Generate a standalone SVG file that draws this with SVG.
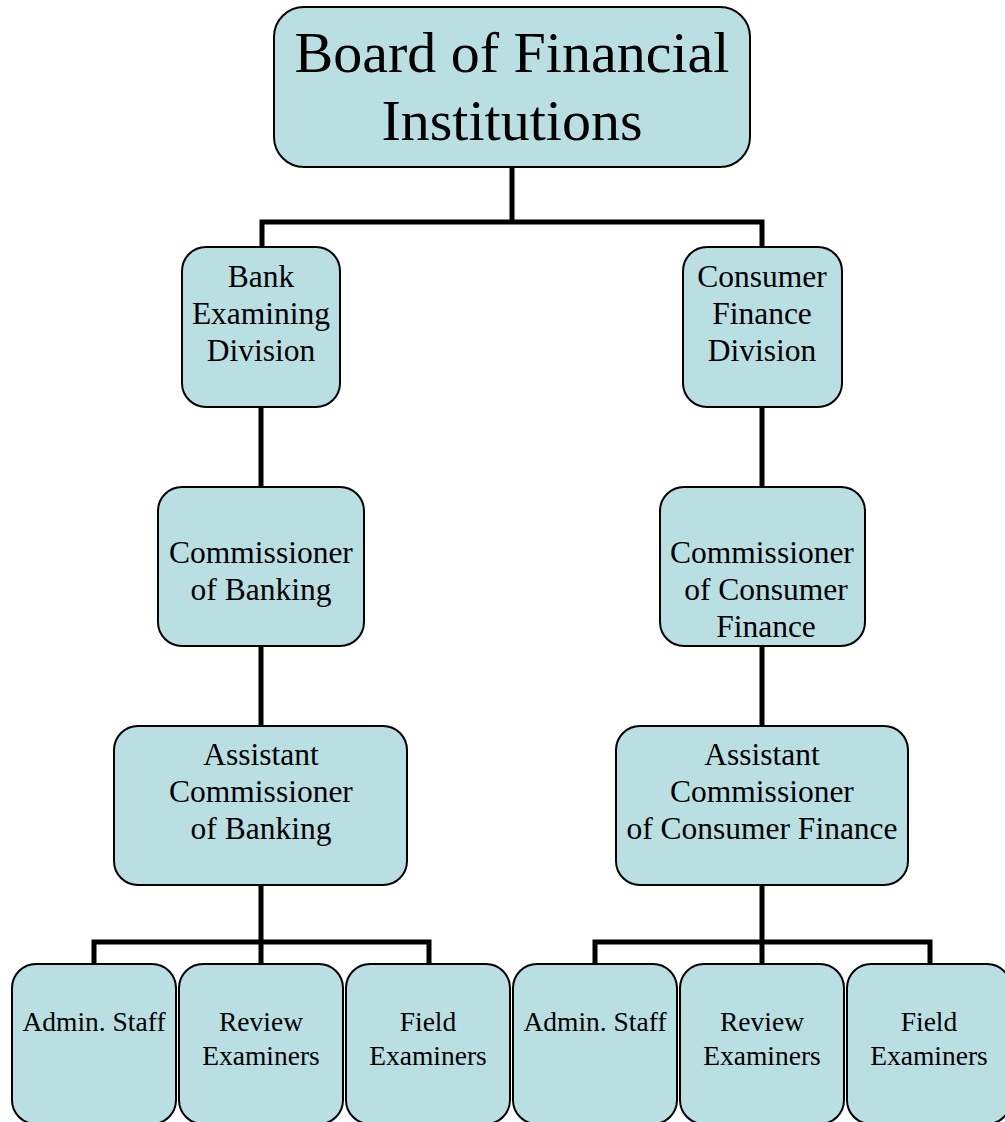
<svg xmlns="http://www.w3.org/2000/svg" width="1005" height="1122" viewBox="0 0 1005 1122">
<style>
.box{fill:#B9DFE2;stroke:#000;stroke-width:2}
.t{font-family:"Liberation Serif","Times New Roman",serif;fill:#000;text-anchor:middle}
.big{font-size:58px}
.mid{font-size:31.5px}
.sm{font-size:27.5px}
.conn{fill:none;stroke:#000;stroke-width:5;stroke-linejoin:miter}
</style>
<rect width="1005" height="1122" fill="#fff"/>
<g id="connectors">
<path class="conn" d="M512 167V222M262 247V222H762V247"/>
<path class="conn" d="M261 407V487M261 646V726M261 885V964M94 964V942H429V964"/>
<path class="conn" d="M762 407V487M762 646V726M762 885V964M595 964V942H930V964"/>
</g>
<g id="board">
<rect class="box" x="274" y="7" width="476" height="160" rx="30"/>
<text class="t big" x="512" y="72">Board of Financial</text>
<text class="t big" x="512" y="140">Institutions</text>
</g>
<g id="bank-div">
<rect class="box" x="182" y="247" width="158" height="160" rx="24"/>
<text class="t mid" x="261" y="287">Bank</text>
<text class="t mid" x="261" y="324">Examining</text>
<text class="t mid" x="261" y="361">Division</text>
</g>
<g id="cf-div">
<rect class="box" x="683" y="247" width="159" height="160" rx="24"/>
<text class="t mid" x="762" y="287">Consumer</text>
<text class="t mid" x="762" y="324">Finance</text>
<text class="t mid" x="762" y="361">Division</text>
</g>
<g id="comm-bank">
<rect class="box" x="158" y="487" width="206" height="159" rx="24"/>
<text class="t mid" x="261" y="563">Commissioner</text>
<text class="t mid" x="261" y="600">of Banking</text>
</g>
<g id="comm-cf">
<rect class="box" x="660" y="487" width="205" height="159" rx="24"/>
<text class="t mid" x="762" y="563">Commissioner</text>
<text class="t mid" x="766" y="600">of Consumer</text>
<text class="t mid" x="766" y="637">Finance</text>
</g>
<g id="asst-bank">
<rect class="box" x="114" y="726" width="293" height="159" rx="24"/>
<text class="t mid" x="261" y="765">Assistant</text>
<text class="t mid" x="261" y="802">Commissioner</text>
<text class="t mid" x="261" y="839">of Banking</text>
</g>
<g id="asst-cf">
<rect class="box" x="616" y="726" width="292" height="159" rx="24"/>
<text class="t mid" x="762" y="765">Assistant</text>
<text class="t mid" x="762" y="802">Commissioner</text>
<text class="t mid" x="762" y="839">of Consumer Finance</text>
</g>
<g id="bank-admin">
<rect class="box" x="12" y="964" width="164" height="160" rx="24"/>
<text class="t sm" x="94" y="1031">Admin. Staff</text>
</g>
<g id="bank-review">
<rect class="box" x="179" y="964" width="164" height="160" rx="24"/>
<text class="t sm" x="261" y="1031">Review</text>
<text class="t sm" x="261" y="1065">Examiners</text>
</g>
<g id="bank-field">
<rect class="box" x="346" y="964" width="164" height="160" rx="24"/>
<text class="t sm" x="428" y="1031">Field</text>
<text class="t sm" x="428" y="1065">Examiners</text>
</g>
<g id="cf-admin">
<rect class="box" x="513" y="964" width="164" height="160" rx="24"/>
<text class="t sm" x="595" y="1031">Admin. Staff</text>
</g>
<g id="cf-review">
<rect class="box" x="680" y="964" width="164" height="160" rx="24"/>
<text class="t sm" x="762" y="1031">Review</text>
<text class="t sm" x="762" y="1065">Examiners</text>
</g>
<g id="cf-field">
<rect class="box" x="847" y="964" width="164" height="160" rx="24"/>
<text class="t sm" x="929" y="1031">Field</text>
<text class="t sm" x="929" y="1065">Examiners</text>
</g>
</svg>
